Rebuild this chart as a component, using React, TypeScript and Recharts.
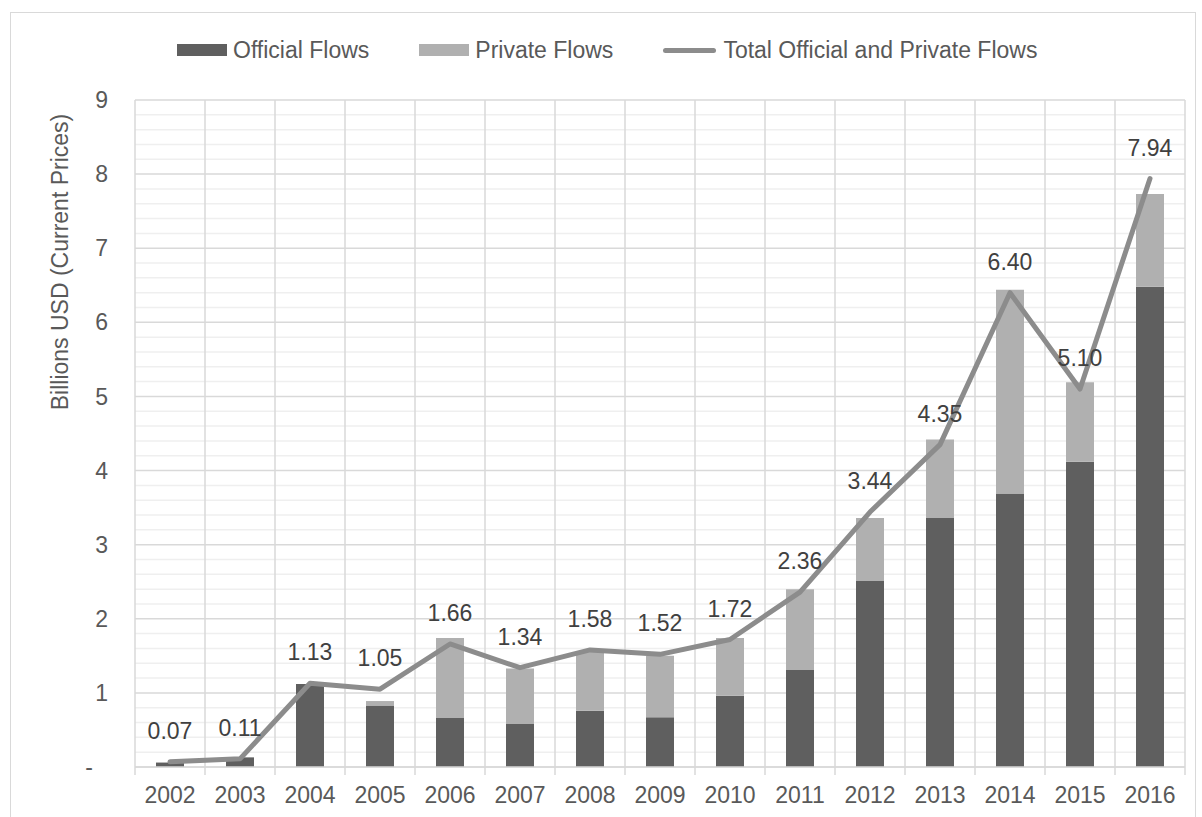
import React from 'react';
import { ComposedChart, Bar, Line, XAxis, YAxis, CartesianGrid, Legend, LabelList } from 'recharts';

const years = ['2002','2003','2004','2005','2006','2007','2008','2009','2010','2011','2012','2013','2014','2015','2016'];
const officialFlows = [0.06, 0.13, 1.12, 0.83, 0.66, 0.58, 0.76, 0.67, 0.96, 1.31, 2.51, 3.36, 3.69, 4.12, 6.48];
const privateFlows = [0, 0, 0, 0.06, 1.08, 0.75, 0.80, 0.83, 0.78, 1.09, 0.85, 1.06, 2.75, 1.07, 1.25];
const totalFlows = [0.07, 0.11, 1.13, 1.05, 1.66, 1.34, 1.58, 1.52, 1.72, 2.36, 3.44, 4.35, 6.40, 5.10, 7.94];
const yTicks = [0, 1, 2, 3, 4, 5, 6, 7, 8, 9];
const yMax = 9;
const minorStep = 0.2;

const data = years.map((y, i) => ({
  year: y,
  official: officialFlows[i],
  private: privateFlows[i],
  total: totalFlows[i],
}));

const FONT = '"Liberation Sans", Arial, sans-serif';
const TEXT = '#595959';
const GRID = '#d9d9d9';

const minorValues: number[] = [];
for (let k = 1; k * minorStep < yMax - 1e-9; k++) {
  const v = +(k * minorStep).toFixed(2);
  if (Math.abs(v - Math.round(v)) > 1e-6) minorValues.push(v);
}

const XTick = (props: any) => {
  const { x, y, payload, index, visibleTicksCount, width } = props;
  const half = payload && typeof payload.offset === 'number' && payload.offset > 0
    ? payload.offset
    : (width / (visibleTicksCount || years.length)) / 2;
  const isLast = index === years.length - 1;
  return (
    <g>
      <line x1={x - half} x2={x - half} y1={y} y2={y + 8} stroke={GRID} strokeWidth={1.5} />
      {isLast && <line x1={x + half} x2={x + half} y1={y} y2={y + 8} stroke={GRID} strokeWidth={1.5} />}
      <text x={x} y={y + 20} dy="0.71em" textAnchor="middle" fill={TEXT} fontSize={23} fontFamily={FONT}>
        {payload.value}
      </text>
    </g>
  );
};

const YTick = (props: any) => {
  const { x, y, payload } = props;
  const isZero = payload.value === 0;
  return (
    <text x={isZero ? x - 15 : x} y={y} dy="0.355em" textAnchor="end" fill={TEXT} fontSize={23} fontFamily={FONT}>
      {isZero ? '-' : payload.value}
    </text>
  );
};

const YLabel = () => (
  <text
    x={68}
    y={262}
    textAnchor="middle"
    fill={TEXT}
    fontSize={23}
    fontFamily={FONT}
    transform="rotate(-90 68 262)"
  >
    Billions USD (Current Prices)
  </text>
);

const LegendContent = (props: any) => {
  const payload = props.payload || [];
  return (
    <div style={{ display: 'flex', alignItems: 'center', paddingLeft: 177, fontFamily: FONT, fontSize: 23, color: TEXT, lineHeight: '30px', whiteSpace: 'nowrap' }}>
      {payload.map((p: any, i: number) => (
        <div key={i} style={{ display: 'flex', alignItems: 'center', marginRight: 50 }}>
          {p.type === 'line' ? (
            <div style={{ width: 53, height: 5, borderRadius: 3, background: p.color, marginRight: 7 }} />
          ) : (
            <div style={{ width: 50, height: 12, background: p.color, marginRight: 6 }} />
          )}
          <span>{p.value}</span>
        </div>
      ))}
    </div>
  );
};

export default function App() {
  return (
    <div style={{ position: 'absolute', left: 0, top: 0, width: 1202, height: 817, overflow: 'hidden', background: '#fff' }}>
      <div style={{ position: 'absolute', left: 10, top: 12, width: 1186, height: 900, border: '1.5px solid #d9d9d9', boxSizing: 'border-box' }} />
      <div style={{ position: 'absolute', left: 0, top: 0 }}>
        <ComposedChart
          width={1202}
          height={817}
          data={data}
          margin={{ top: 100, right: 17, bottom: 0, left: 0 }}
          barSize={28}
        >
          <CartesianGrid
            stroke="#efefef"
            strokeWidth={1.5}
            vertical={false}
            horizontalCoordinatesGenerator={({ offset }: any) =>
              minorValues.map((v) => offset.top + offset.height * (1 - v / yMax))
            }
          />
          <CartesianGrid
            stroke={GRID}
            strokeWidth={1.5}
            horizontalCoordinatesGenerator={({ offset }: any) =>
              yTicks.map((v) => offset.top + offset.height * (1 - v / yMax))
            }
            verticalCoordinatesGenerator={({ offset }: any) =>
              Array.from({ length: years.length + 1 }, (_, i) => offset.left + (i * offset.width) / years.length)
            }
          />
          <XAxis
            dataKey="year"
            height={50}
            axisLine={{ stroke: GRID, strokeWidth: 1.5 }}
            tickLine={false}
            tickSize={0}
            tickMargin={0}
            tick={<XTick />}
            interval={0}
          />
          <YAxis
            width={135}
            domain={[0, yMax]}
            ticks={yTicks}
            axisLine={false}
            tickLine={false}
            tickSize={0}
            tickMargin={27}
            tick={<YTick />}
            label={<YLabel />}
          />
          <Legend
            verticalAlign="middle"
            layout="horizontal"
            content={<LegendContent />}
            wrapperStyle={{ top: 35, left: 0, width: 1202 }}
          />
          <Bar dataKey="official" name="Official Flows" stackId="a" fill="#5f5f5f" isAnimationActive={false} />
          <Bar dataKey="private" name="Private Flows" stackId="a" fill="#b0b0b0" isAnimationActive={false} />
          <Line
            dataKey="total"
            name="Total Official and Private Flows"
            type="linear"
            stroke="#8c8c8c"
            strokeWidth={5}
            strokeLinejoin="round"
            strokeLinecap="round"
            dot={false}
            activeDot={false}
            legendType="line"
            isAnimationActive={false}
          >
            <LabelList
              dataKey="total"
              position="top"
              offset={23}
              formatter={(v: any) => Number(v).toFixed(2)}
              style={{ fill: '#404040', fontSize: 23, fontFamily: FONT }}
            />
          </Line>
        </ComposedChart>
      </div>
    </div>
  );
}
